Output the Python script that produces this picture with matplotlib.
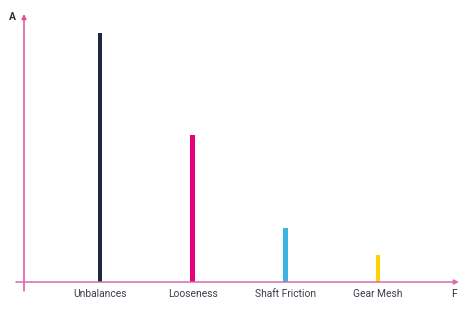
import matplotlib.pyplot as plt

# *** data ***
categories = ['Unbalances', 'Looseness', 'Shaft Friction', 'Gear Mesh']
amplitudes = [100, 59, 21.5, 11]
colors = ['#1c2742', '#e5007d', '#3cb4e0', '#ffd200']

plt.rcParams['font.family'] = ['Roboto', 'DejaVu Sans']

W, H = 470, 316
fig = plt.figure(figsize=(W / 100, H / 100), dpi=100)
ax = fig.add_axes([0, 0, 1, 1])

# pixel layout -> data limits
x0_px, dx_px = 100, 92.7      # first bar centre, bar spacing
base_px, unit_px = 34, 2.49   # baseline from bottom, pixels per unit
ax.set_xlim(-x0_px / dx_px, (W - x0_px) / dx_px)
ax.set_ylim(-base_px / unit_px, (H - base_px) / unit_px)
ax.axis('off')

def px(x, y):
    return (-x0_px / dx_px + x / dx_px, -base_px / unit_px + (H - y) / unit_px)

pos = list(range(len(categories)))
ax.bar(pos, amplitudes, width=4.5 / dx_px, color=colors)

for p, name in zip(pos, categories):
    ax.text(p, px(0, 294)[1], name, ha='center', va='center',
            fontsize=7.4, color='#3a3f4a')

# axes with arrows
axis_col = '#e0509f'
ax.annotate('', xy=px(24, 14), xytext=px(24, 291),
            arrowprops=dict(arrowstyle='-|>', color=axis_col, lw=1.1,
                            mutation_scale=7, shrinkA=0, shrinkB=0))
ax.annotate('', xy=px(459, 282), xytext=px(16, 282),
            arrowprops=dict(arrowstyle='-|>', color='#d96aae', lw=1.1,
                            mutation_scale=7, shrinkA=0, shrinkB=0))
ax.text(*px(12, 17), 'A', ha='center', va='center', fontsize=7.5,
        color='#2a2f3a', fontweight='bold')
ax.text(*px(454, 294), 'F', ha='center', va='center', fontsize=7.5,
        color='#2a2f3a')

fig.savefig('out.png', dpi=100)
